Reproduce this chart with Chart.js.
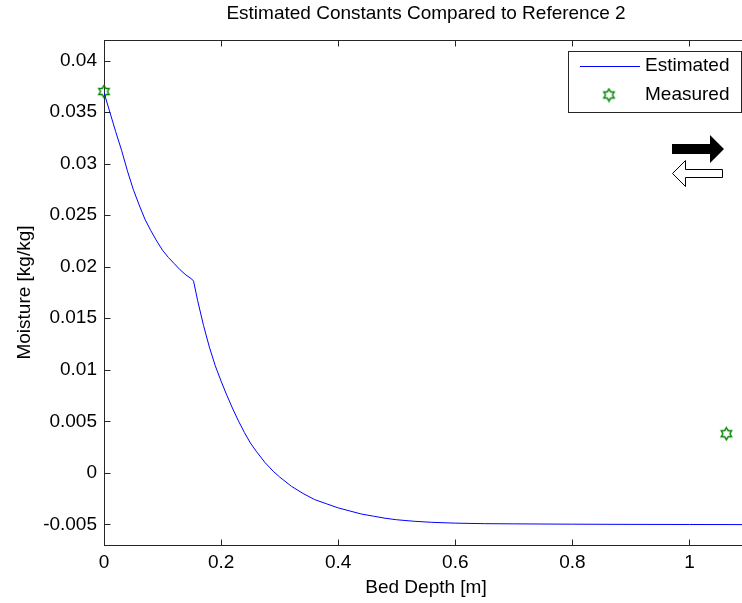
<!DOCTYPE html>
<html><head><meta charset="utf-8">
<script src="https://cdn.jsdelivr.net/npm/chart.js@4.4.0/dist/chart.umd.min.js"></script>
<style>
html,body{margin:0;padding:0;background:#fff;overflow:hidden;}
#wrap{width:742px;height:603px;overflow:hidden;position:relative;background:#fff;}
canvas{display:block;}
</style></head><body>
<div id="wrap"><canvas id="c" width="756" height="603" style="width:756px;height:603px"></canvas></div>
<script>
const depth = [0, 0.01, 0.02, 0.03, 0.04, 0.05, 0.06, 0.07, 0.08, 0.09, 0.10, 0.11, 0.12, 0.13, 0.14, 0.15,
  0.153, 0.16, 0.17, 0.18, 0.19, 0.20, 0.21, 0.22, 0.23, 0.24, 0.25, 0.26, 0.275, 0.29, 0.30, 0.32, 0.34,
  0.36, 0.38, 0.40, 0.42, 0.44, 0.46, 0.48, 0.50, 0.53, 0.56, 0.60, 0.65, 0.70, 0.80, 0.90, 1.00, 1.10];
const moistureEstimated = [0.0369, 0.0350, 0.0331, 0.0313, 0.0293, 0.0275, 0.0260, 0.0246, 0.0235, 0.0225,
  0.0216, 0.0209, 0.0203, 0.0197, 0.0192, 0.0188, 0.0186, 0.0167, 0.0143, 0.0122, 0.0104, 0.0089, 0.0075,
  0.0062, 0.0050, 0.0039, 0.0029, 0.0021, 0.0010, 0.0001, -0.0004, -0.0013, -0.0020, -0.0026, -0.0030,
  -0.0034, -0.0037, -0.0040, -0.0042, -0.0044, -0.00455, -0.0047, -0.0048, -0.00488, -0.00493, -0.00495,
  -0.00498, -0.00500, -0.00501, -0.00502];
const measuredDepth = [0, 1.063];
const measuredMoisture = [0.0370, 0.0038];
const xTicks = [0, 0.2, 0.4, 0.6, 0.8, 1];
const yTicks = [-0.005, 0, 0.005, 0.01, 0.015, 0.02, 0.025, 0.03, 0.035, 0.04];
const xRange = [0, 1.1];
const yRange = [-0.007, 0.042];
const seriesLabels = ['Estimated', 'Measured'];
const titleText = 'Estimated Constants Compared to Reference 2';
const xTitle = 'Bed Depth [m]';
const yTitle = 'Moisture [kg/kg]';

const FONT = 'Liberation Sans, Arial, sans-serif';
const FS = 19;
const AXIS = '#262626';

function makeStar(color){
  const c = document.createElement('canvas');
  c.width = 15; c.height = 15;
  const g = c.getContext('2d');
  g.strokeStyle = color; g.lineWidth = 1.4;
  g.beginPath();
  for (let i = 0; i < 12; i++) {
    const a = -Math.PI/2 + i*Math.PI/6;
    const r = i % 2 === 0 ? 6 : 3.5;
    const x = 7.5 + r*Math.cos(a), y = 7.5 + r*Math.sin(a);
    if (i) g.lineTo(x, y); else g.moveTo(x, y);
  }
  g.closePath(); g.stroke();
  return c;
}
const starImg = makeStar('#008000');

const framePlugin = {
  id: 'frame',
  beforeDatasetsDraw(chart){
    const {ctx, chartArea: a, scales: {x, y}} = chart;
    const L = Math.round(a.left)+0.5, R = Math.round(a.right)+0.5, T = Math.round(a.top)+0.5, B = Math.round(a.bottom)+0.5;
    ctx.save();
    ctx.strokeStyle = AXIS; ctx.lineWidth = 1;
    ctx.strokeRect(L, T, R-L, B-T);
    const tl = 6;
    ctx.beginPath();
    x.ticks.forEach(t => {
      const px = Math.round(x.getPixelForValue(t.value))+0.5;
      ctx.moveTo(px, B); ctx.lineTo(px, B-tl);
      ctx.moveTo(px, T); ctx.lineTo(px, T+tl);
    });
    y.ticks.forEach(t => {
      const py = Math.round(y.getPixelForValue(t.value))+0.5;
      ctx.moveTo(L, py); ctx.lineTo(L+tl, py);
      ctx.moveTo(R, py); ctx.lineTo(R-tl, py);
    });
    ctx.stroke();
    ctx.restore();
  },
  afterDraw(chart){
    const ctx = chart.ctx;
    const ds = chart.data.datasets;
    ctx.save();
    // legend box
    ctx.fillStyle = '#fff';
    ctx.fillRect(568.5, 51.5, 173, 61);
    ctx.strokeStyle = AXIS; ctx.lineWidth = 1;
    ctx.strokeRect(568.5, 51.5, 173, 61);
    ctx.strokeStyle = ds[0].borderColor; ctx.lineWidth = 1;
    ctx.beginPath(); ctx.moveTo(580, 66.5); ctx.lineTo(640, 66.5); ctx.stroke();
    ctx.drawImage(starImg, 609-7.5, 95-7.5);
    ctx.fillStyle = '#000';
    ctx.font = FS + 'px ' + FONT;
    ctx.textAlign = 'left'; ctx.textBaseline = 'middle';
    ctx.fillText(ds[0].label, 645, 66);
    ctx.fillText(ds[1].label, 645, 95);
    // arrows (figure decoration)
    ctx.fillStyle = '#000';
    ctx.beginPath();
    ctx.moveTo(672, 144); ctx.lineTo(710, 144); ctx.lineTo(710, 135); ctx.lineTo(724, 149);
    ctx.lineTo(710, 163); ctx.lineTo(710, 154); ctx.lineTo(672, 154); ctx.closePath(); ctx.fill();
    ctx.fillStyle = '#fff'; ctx.strokeStyle = '#000';
    ctx.beginPath();
    ctx.moveTo(722.5, 169.5); ctx.lineTo(685.5, 169.5); ctx.lineTo(685.5, 160.5); ctx.lineTo(672.5, 173.5);
    ctx.lineTo(685.5, 186.5); ctx.lineTo(685.5, 177.5); ctx.lineTo(722.5, 177.5); ctx.closePath();
    ctx.fill(); ctx.stroke();
    ctx.restore();
  }
};

const fmt = v => String(Number(Number(v).toFixed(4)));

new Chart(document.getElementById('c'), {
  type: 'scatter',
  data: {
    datasets: [
      {
        label: seriesLabels[0],
        data: depth.map((d, i) => ({x: d, y: moistureEstimated[i]})),
        showLine: true, borderColor: '#0000ff', borderWidth: 1, pointRadius: 0, tension: 0, fill: false
      },
      {
        label: seriesLabels[1],
        data: measuredDepth.map((d, i) => ({x: d, y: measuredMoisture[i]})),
        showLine: false, pointStyle: starImg, pointRadius: 7, clip: false
      }
    ]
  },
  options: {
    responsive: false, animation: false,
    layout: {padding: 0},
    plugins: {
      legend: {display: false},
      tooltip: {enabled: false},
      title: {
        display: true, text: titleText, fullSize: false, color: '#000',
        font: {family: FONT, size: FS, weight: 'normal', lineHeight: 1.2},
        padding: {top: 2, bottom: 15.2}
      }
    },
    scales: {
      x: {
        type: 'linear', min: xRange[0], max: xRange[1],
        afterBuildTicks: s => { s.ticks = xTicks.map(v => ({value: v})); },
        afterFit: s => { s.height = 58; },
        grid: {display: false, drawTicks: false},
        border: {display: false},
        ticks: {color: '#000', padding: 6.6, maxRotation: 0, autoSkip: false,
          font: {family: FONT, size: FS, lineHeight: 1.2}, callback: v => fmt(v)},
        title: {display: true, text: xTitle, color: '#000',
          font: {family: FONT, size: FS, lineHeight: 1.2}, padding: {top: 0, bottom: 3.6}}
      },
      y: {
        type: 'linear', min: yRange[0], max: yRange[1],
        afterBuildTicks: s => { s.ticks = yTicks.map(v => ({value: v})); },
        afterFit: s => { s.width = 104; },
        grid: {display: false, drawTicks: false},
        border: {display: false},
        ticks: {color: '#000', padding: 7, autoSkip: false,
          font: {family: FONT, size: FS, lineHeight: 1.2}, callback: v => fmt(v)},
        title: {display: true, text: yTitle, color: '#000',
          font: {family: FONT, size: FS, lineHeight: 1.2}, padding: {top: 13.6, bottom: 0}}
      }
    }
  },
  plugins: [framePlugin]
});
</script>
</body></html>
